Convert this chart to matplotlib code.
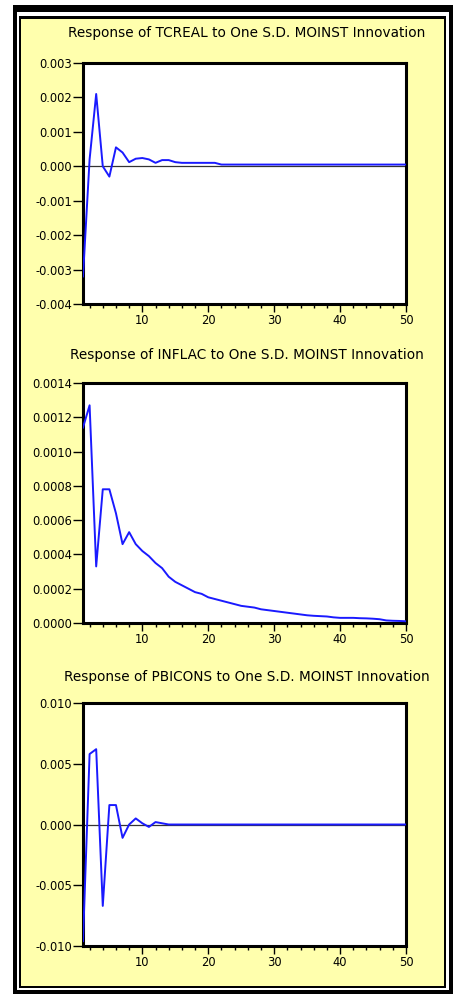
import numpy as np
import matplotlib
matplotlib.use("Agg")
import matplotlib.pyplot as plt
from matplotlib.ticker import MultipleLocator, FixedLocator

# impulse responses, periods 1..50
periods = np.arange(1, 51)

tcreal = [-0.0032, 0.0002, 0.0021, 0.0000, -0.0003, 0.00055, 0.0004, 0.00012, 0.00022, 0.00024,
          0.0002, 0.0001, 0.00018, 0.00018, 0.00012, 0.0001, 0.0001, 0.0001, 0.0001, 0.0001,
          0.0001, 0.00005, 0.00005, 0.00005, 0.00005, 0.00005, 0.00005, 0.00005, 0.00005, 0.00005,
          0.00005, 0.00005, 0.00005, 0.00005, 0.00005, 0.00005, 0.00005, 0.00005, 0.00005, 0.00005,
          0.00005, 0.00005, 0.00005, 0.00005, 0.00005, 0.00005, 0.00005, 0.00005, 0.00005, 0.00005]

inflac = [0.00114, 0.00127, 0.00033, 0.00078, 0.00078, 0.00064, 0.00046, 0.00053, 0.00046, 0.00042,
          0.00039, 0.00035, 0.00032, 0.00027, 0.00024, 0.00022, 0.0002, 0.00018, 0.00017, 0.00015,
          0.00014, 0.00013, 0.00012, 0.00011, 0.0001, 0.000095, 0.00009, 0.00008, 0.000075, 0.00007,
          0.000065, 0.00006, 0.000055, 0.00005, 0.000045, 0.000042, 0.00004, 0.000038, 0.000033, 0.00003,
          0.00003, 0.00003, 0.000028, 0.000027, 0.000025, 0.000022, 0.000015, 0.000013, 0.000012, 0.00001]

pbicons = [-0.0096, 0.0058, 0.0062, -0.0067, 0.0016, 0.0016, -0.0011, 0.0000, 0.0005, 0.0001,
           -0.0002, 0.0002, 0.0001] + [0.0] * 37

titles = ["Response of TCREAL to One S.D. MOINST Innovation",
          "Response of INFLAC to One S.D. MOINST Innovation",
          "Response of PBICONS to One S.D. MOINST Innovation"]

ylims = [(-0.004, 0.003), (0.0, 0.0014), (-0.010, 0.010)]
ysteps = [0.001, 0.0002, 0.005]
yfmts = ["%.3f", "%.4f", "%.3f"]

W, H = 456, 996
fig = plt.figure(figsize=(W / 100, H / 100), dpi=100)

# background: double black frame and pale yellow fill
img = np.ones((H, W, 3))
img[5:994, 13:453] = 0
img[12:990, 17:449] = 1
img[16:988, 19:446] = 0
img[19:986, 21:444] = [1.0, 1.0, 0.68]
fig.figimage(img, xo=0, yo=0, origin="upper", zorder=-1)

# axes boxes in pixels: (left, top, right, bottom)
boxes = [(83, 63, 406, 304), (83, 383, 406, 623), (83, 703, 406, 946)]
title_y = [33, 355, 677]
series = [tcreal, inflac, pbicons]

for i in range(3):
    l, t, r, b = boxes[i]
    ax = fig.add_axes([l / W, 1 - b / H, (r - l) / W, (b - t) / H])
    ax.set_facecolor("white")
    ax.plot(periods, series[i], color="#1a1aff", lw=1.4, zorder=3)
    if ylims[i][0] < 0:
        ax.axhline(0, color="#333333", lw=0.9, zorder=2)
    ax.set_xlim(1, 50)
    ax.set_ylim(*ylims[i])
    ax.xaxis.set_major_locator(FixedLocator([10, 20, 30, 40, 50]))
    ax.xaxis.set_minor_locator(MultipleLocator(2))
    ax.yaxis.set_major_locator(MultipleLocator(ysteps[i]))
    ax.set_yticklabels([yfmts[i] % v for v in ax.get_yticks()])
    for s in ax.spines.values():
        s.set_linewidth(2.2)
    ax.tick_params(axis="y", direction="out", length=7, width=1, labelsize=8.3, pad=1)
    ax.tick_params(axis="x", which="major", direction="out", length=6, width=1, labelsize=8.3, pad=1)
    ax.tick_params(axis="x", which="minor", direction="out", length=3, width=1)
    fig.text((l + r) / 2 / W + 0.005, 1 - title_y[i] / H, titles[i], ha="center", va="center",
             fontsize=9.8)

fig.savefig("out.png", dpi=100)
